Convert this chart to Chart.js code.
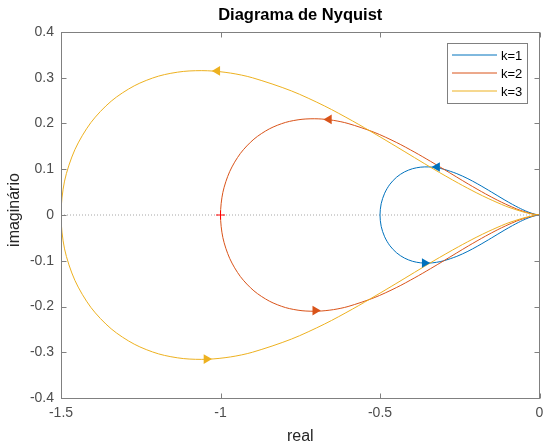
<!DOCTYPE html>
<html><head><meta charset="utf-8">
<script src="https://cdn.jsdelivr.net/npm/chart.js@4.4.0/dist/chart.umd.min.js"></script>
<style>html,body{margin:0;padding:0;background:#fff}#wrap{width:545px;height:442px}</style>
</head><body><div id="wrap"><canvas id="c" width="545" height="442"></canvas></div>
<script>
// ---- labels / ticks ----
const titleText = 'Diagrama de Nyquist';
const xLabelText = 'real';
const yLabelText = 'imaginário';
const seriesLabels = ['k=1', 'k=2', 'k=3'];
const seriesColors = ['#0072BD', '#D95319', '#EDB120'];
const xTicks = [-1.5, -1, -0.5, 0];
const xTickLabels = ['-1.5', '-1', '-0.5', '0'];
const yTicks = [-0.4, -0.3, -0.2, -0.1, 0, 0.1, 0.2, 0.3, 0.4];
const yTickLabels = ['-0.4', '-0.3', '-0.2', '-0.1', '0', '0.1', '0.2', '0.3', '0.4'];

// ---- curve values (real part shared by both branches, imaginary upper / lower) ----
const reK1 = [-0.5000,-0.4963,-0.4855,-0.4688,-0.4476,-0.4235,-0.3980,-0.3722,-0.3469,-0.3228,-0.3000,-0.2592,-0.2245,-0.1953,-0.1707,-0.1500,-0.1110,-0.0846,-0.0662,-0.0529,-0.0358,-0.0257,-0.0149,-0.0097,-0.0044,-0.0025,-0.0001];
const imK1Upper = [0,0.0247,0.0476,0.0673,0.0829,0.0941,0.1012,0.1046,0.1051,0.1034,0.1000,0.0904,0.0794,0.0685,0.0586,0.0500,0.0336,0.0231,0.0163,0.0118,0.0066,0.0041,0.0018,0.0010,0.0003,0.0001,0];
const imK1Lower = [0,-0.0247,-0.0476,-0.0673,-0.0829,-0.0941,-0.1012,-0.1046,-0.1051,-0.1034,-0.1000,-0.0904,-0.0794,-0.0685,-0.0586,-0.0500,-0.0336,-0.0231,-0.0163,-0.0118,-0.0066,-0.0041,-0.0018,-0.0010,-0.0003,-0.0001,0];

const reK2 = [-1.0000,-0.9926,-0.9710,-0.9376,-0.8952,-0.8470,-0.7960,-0.7444,-0.6938,-0.6456,-0.6000,-0.5184,-0.4490,-0.3906,-0.3414,-0.3000,-0.2220,-0.1692,-0.1324,-0.1058,-0.0716,-0.0514,-0.0298,-0.0194,-0.0088,-0.0050,-0.0002];
const imK2Upper = [0,0.0494,0.0952,0.1346,0.1658,0.1882,0.2024,0.2092,0.2102,0.2068,0.2000,0.1808,0.1588,0.1370,0.1172,0.1000,0.0672,0.0462,0.0326,0.0236,0.0132,0.0082,0.0036,0.0020,0.0006,0.0002,0];
const imK2Lower = [0,-0.0494,-0.0952,-0.1346,-0.1658,-0.1882,-0.2024,-0.2092,-0.2102,-0.2068,-0.2000,-0.1808,-0.1588,-0.1370,-0.1172,-0.1000,-0.0672,-0.0462,-0.0326,-0.0236,-0.0132,-0.0082,-0.0036,-0.0020,-0.0006,-0.0002,0];

const reK3 = [-1.5000,-1.4889,-1.4565,-1.4064,-1.3428,-1.2705,-1.1940,-1.1166,-1.0407,-0.9684,-0.9000,-0.7776,-0.6735,-0.5859,-0.5121,-0.4500,-0.3330,-0.2538,-0.1986,-0.1587,-0.1074,-0.0771,-0.0447,-0.0291,-0.0132,-0.0075,-0.0003];
const imK3Upper = [0,0.0741,0.1428,0.2019,0.2487,0.2823,0.3036,0.3138,0.3153,0.3102,0.3000,0.2712,0.2382,0.2055,0.1758,0.1500,0.1008,0.0693,0.0489,0.0354,0.0198,0.0123,0.0054,0.0030,0.0009,0.0003,0];
const imK3Lower = [0,-0.0741,-0.1428,-0.2019,-0.2487,-0.2823,-0.3036,-0.3138,-0.3153,-0.3102,-0.3000,-0.2712,-0.2382,-0.2055,-0.1758,-0.1500,-0.1008,-0.0693,-0.0489,-0.0354,-0.0198,-0.0123,-0.0054,-0.0030,-0.0009,-0.0003,0];

// ---- direction arrows (upper, lower) ----
const arrowK1X = [-0.321, -0.360];
const arrowK1Y = [0.105, -0.105];
const arrowK2X = [-0.660, -0.703];
const arrowK2Y = [0.209, -0.209];
const arrowK3X = [-1.010, -1.044];
const arrowK3Y = [0.315, -0.315];
const arrowRotation = [-90, 90];

// ---- reference marks ----
const zeroLineX = [-1.5, 0];
const zeroLineY = [0, 0];
const criticalX = [-1];
const criticalY = [0];

const FONT = '"Liberation Sans", Arial, Helvetica, sans-serif';

function loop(re, imU, imL) {
  const pts = [];
  for (let i = re.length - 1; i >= 0; i--) pts.push({x: re[i], y: imU[i]});
  for (let i = 1; i < re.length; i++) pts.push({x: re[i], y: imL[i]});
  return pts;
}
function pairs(xs, ys) { return xs.map((x, i) => ({x: x, y: ys[i]})); }

const curves = [
  loop(reK1, imK1Upper, imK1Lower),
  loop(reK2, imK2Upper, imK2Lower),
  loop(reK3, imK3Upper, imK3Lower)
];
const arrows = [pairs(arrowK1X, arrowK1Y), pairs(arrowK2X, arrowK2Y), pairs(arrowK3X, arrowK3Y)];

const datasets = [];
datasets.push({
  label: 'zero', data: pairs(zeroLineX, zeroLineY), showLine: true, pointRadius: 0,
  borderColor: '#a6a6a6', borderWidth: 1, borderDash: [1, 2], order: 20
});
curves.forEach((c, i) => {
  datasets.push({
    label: seriesLabels[i], data: c, showLine: true, pointRadius: 0, tension: 0.3,
    borderColor: seriesColors[i], borderWidth: 1, order: 10 - i
  });
});
arrows.forEach((a, i) => {
  datasets.push({
    label: seriesLabels[i] + ' arrow', data: a, showLine: false, pointStyle: 'triangle',
    pointRadius: 5.5, pointRotation: arrowRotation, backgroundColor: seriesColors[i],
    borderColor: seriesColors[i], borderWidth: 0, order: 4 - i
  });
});
datasets.push({
  label: 'critical', data: pairs(criticalX, criticalY), showLine: false, pointStyle: 'cross',
  pointRadius: 4.5, borderColor: '#ff0000', borderWidth: 1, order: 0
});

const decor = {
  id: 'decor',
  afterDraw(chart) {
    const ctx = chart.ctx, a = chart.chartArea;
    const xs = chart.scales.x, ys = chart.scales.y;
    ctx.save();
    // box
    ctx.strokeStyle = '#808080';
    ctx.lineWidth = 1;
    const L = Math.floor(a.left) + 0.5, R = Math.floor(a.right) + 0.5;
    const T = Math.floor(a.top) + 0.5, B = Math.floor(a.bottom) + 0.5;
    ctx.strokeRect(L, T, R - L, B - T);
    // inner ticks
    ctx.beginPath();
    xTicks.forEach(v => {
      const p = Math.round(xs.getPixelForValue(v)) + 0.5;
      ctx.moveTo(p, B); ctx.lineTo(p, B - 5);
      ctx.moveTo(p, T); ctx.lineTo(p, T + 5);
    });
    yTicks.forEach(v => {
      const p = Math.round(ys.getPixelForValue(v)) + 0.5;
      ctx.moveTo(L, p); ctx.lineTo(L + 5, p);
      ctx.moveTo(R, p); ctx.lineTo(R - 5, p);
    });
    ctx.stroke();
    // title
    ctx.fillStyle = '#000';
    ctx.textAlign = 'center';
    ctx.textBaseline = 'middle';
    ctx.font = 'bold 16.5px ' + FONT;
    ctx.fillText(titleText, (a.left + a.right) / 2, 15);
    // axis labels
    ctx.fillStyle = '#262626';
    ctx.font = '16px ' + FONT;
    ctx.textBaseline = 'alphabetic';
    ctx.fillText(xLabelText, (a.left + a.right) / 2, 441);
    ctx.save();
    ctx.translate(19, 210);
    ctx.rotate(-Math.PI / 2);
    ctx.fillText(yLabelText, 0, 0);
    ctx.restore();
    // legend
    const lx = 447, ly = 43, lw = 80, lh = 60;
    ctx.fillStyle = '#fff';
    ctx.fillRect(lx, ly, lw, lh);
    ctx.strokeStyle = '#808080';
    ctx.strokeRect(lx + 0.5, ly + 0.5, lw, lh);
    const rows = [55, 73, 91];
    ctx.font = '13px ' + FONT;
    ctx.textAlign = 'left';
    ctx.textBaseline = 'middle';
    seriesLabels.forEach((lab, i) => {
      ctx.strokeStyle = seriesColors[i];
      ctx.beginPath();
      ctx.moveTo(452, rows[i]); ctx.lineTo(497, rows[i]);
      ctx.stroke();
      ctx.fillStyle = '#000';
      ctx.fillText(lab, 501, rows[i] + 1);
    });
    ctx.restore();
  }
};

new Chart(document.getElementById('c'), {
  type: 'scatter',
  data: { datasets: datasets },
  options: {
    responsive: false, animation: false, devicePixelRatio: 1,
    layout: { padding: { top: 32, right: 0, left: 0, bottom: 0 } },
    plugins: { legend: { display: false }, tooltip: { enabled: false }, title: { display: false } },
    scales: {
      x: {
        type: 'linear', min: -1.5, max: 0,
        afterBuildTicks: s => { s.ticks = xTicks.map(v => ({ value: v })); },
        afterFit: s => { s.height = 44; s.paddingRight = 0; s.paddingLeft = 0; },
        ticks: { callback: (v, i) => xTickLabels[i], font: { family: FONT, size: 14 }, color: '#4d4d4d', padding: 7, maxRotation: 0, autoSkip: false },
        grid: { display: false, drawTicks: false },
        border: { display: false }
      },
      y: {
        type: 'linear', min: -0.4, max: 0.4,
        afterBuildTicks: s => { s.ticks = yTicks.map(v => ({ value: v })); },
        afterFit: s => { s.width = 61; },
        ticks: { callback: (v, i) => yTickLabels[i], font: { family: FONT, size: 14 }, color: '#4d4d4d', padding: 7, autoSkip: false },
        grid: { display: false, drawTicks: false },
        border: { display: false }
      }
    }
  },
  plugins: [decor]
});
</script>
</body></html>
